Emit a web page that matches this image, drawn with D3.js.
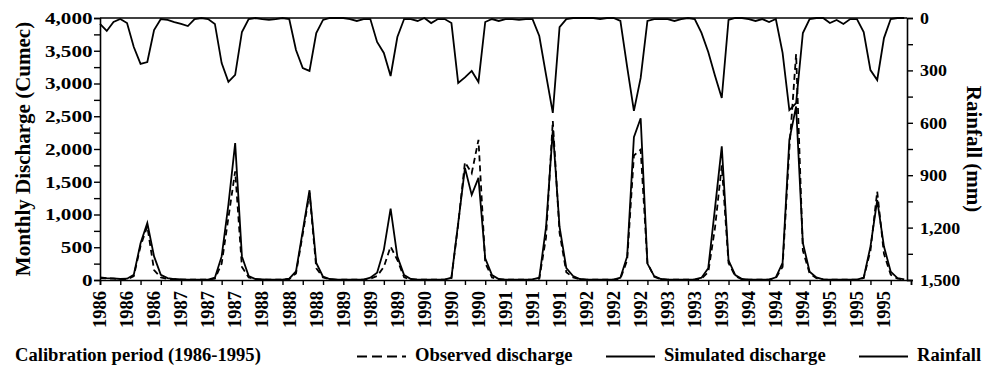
<!DOCTYPE html>
<html>
<head>
<meta charset="utf-8">
<script src="https://cdn.jsdelivr.net/npm/d3@7"></script>
<style>
  body { margin: 0; background: #fff; }
  svg { display: block; }
  text { font-family: "Liberation Serif", "Times New Roman", serif; font-weight: bold; fill: #000; }
</style>
</head>
<body>
<div id="chart"></div>
<script>
// monthly series, Jan 1986 .. Dec 1995
const startYear = 1986;
const months = d3.range(120);

const observed = [
  30, 25, 20, 10, 10, 60, 520, 820, 150, 40, 15, 10,
  5, 5, 5, 5, 5, 20, 250, 950, 1660, 200, 40, 10,
  5, 5, 5, 5, 15, 100, 700, 1330, 180, 40, 10, 5,
  5, 5, 5, 5, 20, 60, 200, 510, 305, 40, 10, 5,
  5, 5, 5, 5, 30, 850, 1800, 1630, 2140, 260, 40, 10,
  5, 5, 5, 5, 5, 20, 650, 2430, 720, 120, 40, 10,
  5, 5, 5, 5, 5, 20, 300, 1900, 1990, 260, 50, 10,
  5, 5, 5, 5, 5, 20, 120, 800, 1750, 260, 60, 10,
  5, 5, 5, 5, 30, 200, 2000, 3450, 450, 100, 30, 10,
  5, 5, 5, 5, 5, 30, 450, 1350, 400, 80, 20, 5
];

const simulated = [
  40, 30, 25, 15, 20, 80, 560, 870, 360, 80, 30, 15,
  10, 5, 5, 5, 5, 35, 360, 1150, 2090, 360, 60, 15,
  10, 5, 5, 5, 20, 130, 750, 1370, 260, 50, 15, 5,
  5, 5, 5, 5, 35, 110, 460, 1090, 356, 76, 15, 5,
  5, 5, 5, 5, 35, 870, 1710, 1300, 1560, 330, 76, 15,
  5, 5, 5, 5, 10, 35, 810, 2290, 810, 180, 60, 15,
  5, 5, 5, 5, 5, 35, 360, 2180, 2470, 250, 60, 15,
  5, 5, 5, 5, 10, 35, 180, 1100, 2040, 300, 76, 15,
  5, 5, 5, 5, 40, 260, 2140, 2650, 565, 127, 40, 10,
  5, 5, 5, 5, 5, 35, 510, 1220, 510, 127, 30, 10
];

const rainfall = [
  34, 74, 23, 6, 29, 166, 263, 252, 69, 6, 11, 23,
  34, 46, 6, 0, 6, 34, 258, 366, 326, 80, 6, 0,
  6, 11, 6, 0, 6, 183, 286, 303, 86, 11, 0, 0,
  0, 6, 17, 6, 6, 137, 200, 332, 109, 6, 6, 17,
  0, 29, 6, 6, 29, 372, 340, 303, 366, 23, 6, 17,
  6, 6, 11, 6, 6, 103, 326, 543, 52, 6, 0, 0,
  0, 0, 6, 0, 0, 17, 280, 532, 343, 17, 6, 6,
  6, 17, 6, 0, 6, 85, 195, 330, 458, 11, 0, 0,
  6, 17, 6, 23, 6, 200, 527, 487, 86, 6, 0, 0,
  29, 11, 34, 6, 6, 80, 298, 355, 115, 6, 0, 0
];

const dischargeTicks = d3.range(0, 4001, 250);   // labelled every 500
const rainTicks = d3.range(0, 1501, 150);        // labelled every 300
const monthTicks = d3.range(0, 121, 3);
const monthLabels = d3.range(0, 120, 4);

const leftTitle = "Monthly Discharge (Cumec)";
const rightTitle = "Rainfall (mm)";
const periodNote = "Calibration period (1986-1995)";
const legendLabels = ["Observed discharge", "Simulated discharge", "Rainfall"];

const width = 999;
const height = 372;

const svg = d3.select("#chart")
  .append("svg")
  .attr("width", width)
  .attr("height", height);

const x = d3.scaleLinear().domain([0, 120]).range([100, 911]);
const yQ = d3.scaleLinear().domain([0, 4000]).range([280, 18]);
const yR = d3.scaleLinear().domain([0, 1500]).range([18, 280]);
const rightX = 907;

const fmt = d3.format(",");

// top frame line
svg.append("line")
  .attr("x1", 100).attr("x2", rightX)
  .attr("y1", yQ(4000)).attr("y2", yQ(4000))
  .attr("stroke", "#000").attr("stroke-width", 1.6);

// left axis
const leftAxis = svg.append("g")
  .attr("transform", "translate(100,0)")
  .call(d3.axisLeft(yQ).tickValues(dischargeTicks).tickSize(6)
    .tickFormat((d) => (d % 500 === 0 ? fmt(d) : "")));
leftAxis.select(".domain").attr("stroke-width", 1.6);
leftAxis.selectAll(".tick line").attr("stroke-width", 1.4);
leftAxis.selectAll("text")
  .attr("font-size", 16)
  .attr("x", -7.5 / 1.32)
  .attr("transform", "scale(1.32,1)")
  .attr("dy", "0.34em");

// right axis
const rightAxis = svg.append("g")
  .attr("transform", `translate(${rightX},0)`)
  .call(d3.axisRight(yR).tickValues(rainTicks).tickSize(6)
    .tickFormat((d) => (d % 300 === 0 ? fmt(d) : "")));
rightAxis.select(".domain").attr("stroke-width", 1.6);
rightAxis.selectAll(".tick line").attr("stroke-width", 1.4);
rightAxis.selectAll("text")
  .attr("font-size", 16)
  .attr("x", 13 / 1.12)
  .attr("transform", "scale(1.12,1)")
  .attr("dy", "0.34em");

// bottom axis (ticks every 3 months)
const bottomAxis = svg.append("g")
  .attr("transform", "translate(0,280)")
  .call(d3.axisBottom(x).tickValues(monthTicks).tickSize(5).tickFormat(""));
bottomAxis.select(".domain").attr("stroke-width", 1.6);
bottomAxis.selectAll(".tick line").attr("stroke-width", 1.4);

// month labels every 4 months, rotated
svg.append("g")
  .selectAll("text")
  .data(monthLabels)
  .enter()
  .append("text")
  .attr("transform", (d) => `translate(${x(d)},291) rotate(-90)`)
  .attr("text-anchor", "end")
  .attr("dy", "0.34em")
  .attr("font-size", 18.5)
  .text((d) => startYear + Math.floor(d / 12));

// series
const lineQ = (vals) => d3.line().x((d) => x(d)).y((d) => yQ(vals[d]));
const lineR = d3.line().x((d) => x(d)).y((d) => yR(rainfall[d]));

svg.append("path")
  .datum(months)
  .attr("d", lineR)
  .attr("fill", "none")
  .attr("stroke", "#000")
  .attr("stroke-width", 1.8);

svg.append("path")
  .datum(months)
  .attr("d", lineQ(simulated))
  .attr("fill", "none")
  .attr("stroke", "#000")
  .attr("stroke-width", 1.8);

svg.append("path")
  .datum(months)
  .attr("d", lineQ(observed))
  .attr("fill", "none")
  .attr("stroke", "#000")
  .attr("stroke-width", 1.8)
  .attr("stroke-dasharray", "6,4");

// axis titles
svg.append("text")
  .attr("transform", `translate(30,${(18 + 280) / 2}) rotate(-90)`)
  .attr("text-anchor", "middle")
  .attr("font-size", 21)
  .text(leftTitle);

svg.append("text")
  .attr("transform", `translate(967,${(18 + 280) / 2}) rotate(90)`)
  .attr("text-anchor", "middle")
  .attr("font-size", 21)
  .text(rightTitle);

// legend row
svg.append("text")
  .attr("x", 15).attr("y", 361)
  .attr("font-size", 18.6)
  .text(periodNote);

const legendX = [357, 606, 859];
const legendDash = ["10,5", null, null];
legendLabels.forEach((label, i) => {
  svg.append("line")
    .attr("x1", legendX[i]).attr("x2", legendX[i] + 49)
    .attr("y1", 356.5).attr("y2", 356.5)
    .attr("stroke", "#000")
    .attr("stroke-width", 1.8)
    .attr("stroke-dasharray", legendDash[i]);
  svg.append("text")
    .attr("x", legendX[i] + 58).attr("y", 361)
    .attr("font-size", 18.6)
    .text(label);
});
</script>
</body>
</html>
